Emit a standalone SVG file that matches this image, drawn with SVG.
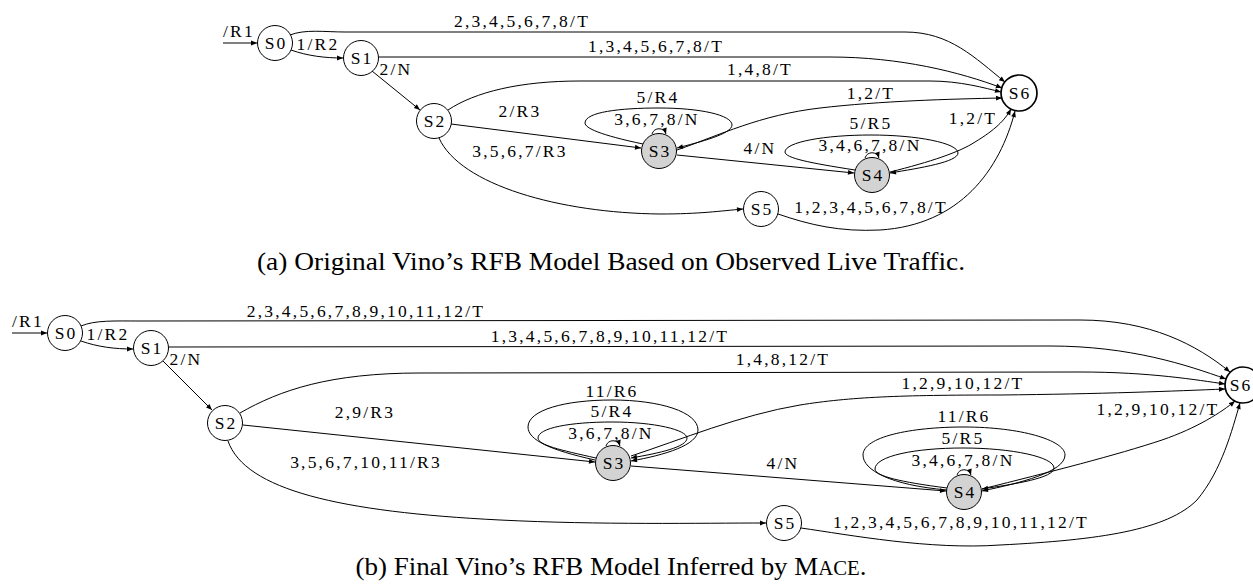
<svg xmlns="http://www.w3.org/2000/svg" width="1253" height="585" viewBox="0 0 1253 585">
<defs>
<marker id="arr" viewBox="0 0 10 10" refX="10" refY="5" markerWidth="7" markerHeight="6" markerUnits="userSpaceOnUse" orient="auto"><path d="M0,1 L10,5 L0,9z" fill="#000"/></marker>
<style>
text{font-family:"Liberation Serif","Times New Roman",serif;font-size:17.5px;letter-spacing:2.2px;text-anchor:middle;fill:#000}
.node circle{fill:#fff;stroke:#000;stroke-width:1}
.node.g circle{fill:#d3d3d3}
.node.f circle{stroke-width:1.7}
.node text{letter-spacing:2px}
.edges path{fill:none;stroke:#000;stroke-width:1;marker-end:url(#arr)}
.cap{font-size:26px;letter-spacing:0}
</style>
</defs>
<rect width="1253" height="585" fill="#fff"/>

<!-- (a) top diagram -->
<g id="a-edges" class="edges">
<path d="M223,43 L257,43"/>
<path d="M290,35 C305,29 325,32 345,32 L905,32 C950,32 975,58 1005,82"/>
<path d="M291,50 C308,56 325,58 343,58"/>
<path d="M378,57 L830,57 C900,57 960,72 1002,88"/>
<path d="M372,71 L420,110"/>
<path d="M448,110 C475,92 520,81 580,81 L930,81 C960,81 985,88 1001,92"/>
<path d="M451,124 L641,148"/>
<path d="M439,138 C460,185 560,213 660,214 C700,214 720,211 743,209"/>
<path d="M652,134 C654,127 664,127 666,134"/>
<path d="M643,144 C600,135 585,128 585,123 C585,112 620,108 659,108 C700,108 732,115 732,125 C732,134 700,142 677,148"/>
<path d="M677,150 C720,135 760,115 820,108 C880,101 950,99 1002,98"/>
<path d="M677,155 L854,173"/>
<path d="M865,158 C867,151 877,151 879,158"/>
<path d="M855,170 C810,163 785,158 785,152 C785,142 825,135 871,135 C917,135 958,143 958,153 C958,162 920,168 890,173"/>
<path d="M890,172 C930,162 960,152 975,142 C995,130 1005,120 1011,109"/>
<path d="M778,214 C810,225 840,232 880,230 C960,225 1000,170 1015,111"/>
</g>
<g id="a-labels">
<text x="239" y="37">/R1</text>
<text x="522" y="27">2,3,4,5,6,7,8/T</text>
<text x="318" y="50">1/R2</text>
<text x="656" y="52">1,3,4,5,6,7,8/T</text>
<text x="396" y="75">2/N</text>
<text x="760" y="75">1,4,8/T</text>
<text x="520" y="117">2/R3</text>
<text x="658" y="103">5/R4</text>
<text x="657" y="125">3,6,7,8/N</text>
<text x="520" y="157">3,5,6,7/R3</text>
<text x="871" y="99">1,2/T</text>
<text x="871" y="129">5/R5</text>
<text x="973" y="124">1,2/T</text>
<text x="870" y="151">3,4,6,7,8/N</text>
<text x="760" y="154">4/N</text>
<text x="871" y="213">1,2,3,4,5,6,7,8/T</text>
</g>
<g id="a-S0" class="node"><circle cx="275" cy="43" r="17.5"/><text x="276" y="49">S0</text></g>
<g id="a-S1" class="node"><circle cx="361" cy="58" r="17.5"/><text x="362" y="64">S1</text></g>
<g id="a-S2" class="node"><circle cx="434" cy="121" r="17.5"/><text x="435" y="127">S2</text></g>
<g id="a-S3" class="node g"><circle cx="659" cy="151" r="17.5"/><text x="660" y="157">S3</text></g>
<g id="a-S4" class="node g"><circle cx="872" cy="175" r="17.5"/><text x="873" y="181">S4</text></g>
<g id="a-S5" class="node"><circle cx="761" cy="209" r="17.5"/><text x="762" y="215">S5</text></g>
<g id="a-S6" class="node f"><circle cx="1019" cy="93" r="18"/><text x="1020" y="99">S6</text></g>
<text class="cap" x="611" y="270" textLength="708" lengthAdjust="spacingAndGlyphs">(a) Original Vino’s RFB Model Based on Observed Live Traffic.</text>

<!-- (b) bottom diagram -->
<g id="b-edges" class="edges">
<path d="M12,333 L47,333"/>
<path d="M81,326 C95,320 115,321 140,321 L1080,320 C1150,320 1197,345 1230,372"/>
<path d="M81,341 C98,347 115,349 133,349"/>
<path d="M168,347 L1050,346 C1130,346 1187,365 1226,379"/>
<path d="M163,361 L212,410"/>
<path d="M240,413 C280,390 330,373 420,373 L1080,372 C1150,372 1197,380 1225,384"/>
<path d="M243,425 L595,462"/>
<path d="M228,441 C245,490 340,512 500,520 C600,525 700,523 766,523"/>
<path d="M606,446 C608,439 618,439 620,446"/>
<path d="M596,458 C560,450 538,445 538,438 C538,428 570,422 612,422 C655,422 687,430 687,438 C687,447 660,453 631,458"/>
<path d="M595,460 C550,450 528,440 528,427 C528,410 565,400 612,400 C660,400 698,412 698,430 C698,445 665,455 631,461"/>
<path d="M631,456 C680,440 740,415 800,405 C850,397 900,395 1000,395 C1100,394 1177,391 1225,389"/>
<path d="M631,466 L946,491"/>
<path d="M957,475 C959,468 969,468 971,475"/>
<path d="M947,488 C900,482 875,476 875,469 C875,456 915,448 963,448 C1012,448 1054,457 1054,468 C1054,478 1015,484 982,489"/>
<path d="M947,490 C890,485 863,470 863,455 C863,437 910,427 964,427 C1020,427 1065,440 1065,455 C1065,472 1020,483 982,491"/>
<path d="M982,489 C1050,472 1117,455 1162,440 C1197,428 1222,412 1235,401"/>
<path d="M801,528 C850,535 930,550 1000,545 C1100,540 1167,530 1197,500 C1222,470 1232,430 1240,403"/>
</g>
<g id="b-labels">
<text x="28" y="327">/R1</text>
<text x="366" y="317">2,3,4,5,6,7,8,9,10,11,12/T</text>
<text x="108" y="340">1/R2</text>
<text x="610" y="342">1,3,4,5,6,7,8,9,10,11,12/T</text>
<text x="186" y="365">2/N</text>
<text x="783" y="365">1,4,8,12/T</text>
<text x="365" y="418">2,9/R3</text>
<text x="366" y="468">3,5,6,7,10,11/R3</text>
<text x="612" y="397">11/R6</text>
<text x="612" y="417">5/R4</text>
<text x="611" y="439">3,6,7,8/N</text>
<text x="783" y="469">4/N</text>
<text x="963" y="389">1,2,9,10,12/T</text>
<text x="1158" y="415">1,2,9,10,12/T</text>
<text x="964" y="422">11/R6</text>
<text x="963" y="444">5/R5</text>
<text x="963" y="466">3,4,6,7,8/N</text>
<text x="961" y="528">1,2,3,4,5,6,7,8,9,10,11,12/T</text>
</g>
<g id="b-S0" class="node"><circle cx="65" cy="333" r="17.5"/><text x="66" y="339">S0</text></g>
<g id="b-S1" class="node"><circle cx="151" cy="348" r="17.5"/><text x="152" y="354">S1</text></g>
<g id="b-S2" class="node"><circle cx="225" cy="423" r="17.5"/><text x="226" y="429">S2</text></g>
<g id="b-S3" class="node g"><circle cx="613" cy="463" r="17.5"/><text x="614" y="469">S3</text></g>
<g id="b-S4" class="node g"><circle cx="964" cy="492" r="17.5"/><text x="965" y="498">S4</text></g>
<g id="b-S5" class="node"><circle cx="784" cy="523" r="17.5"/><text x="785" y="529">S5</text></g>
<g id="b-S6" class="node f"><circle cx="1243" cy="385" r="18"/><text x="1241" y="391">S6</text></g>
<text class="cap" x="611" y="575" textLength="511" lengthAdjust="spacingAndGlyphs">(b) Final Vino’s RFB Model Inferred by M<tspan font-size="20px">ACE</tspan>.</text>
</svg>
